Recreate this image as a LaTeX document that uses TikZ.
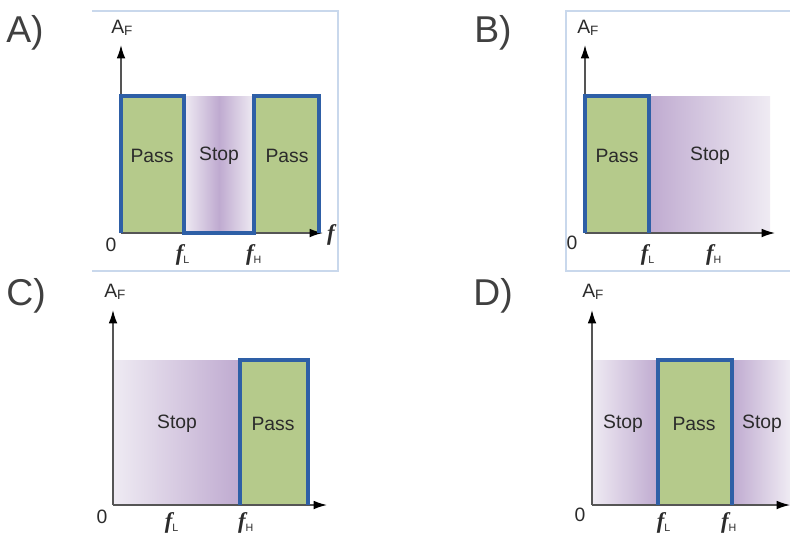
\documentclass[tikz,border=0pt]{standalone}
\usepackage{fontspec}
\setmainfont{Liberation Sans}
\newfontfamily\freqfont{Liberation Serif}
\usetikzlibrary{arrows.meta}
\definecolor{PassGreen}{HTML}{B5CA8B}
\definecolor{EdgeBlue}{HTML}{2E5FA6}
\definecolor{StopDark}{HTML}{BFAAD0}
\definecolor{StopLight}{HTML}{EFEBF3}
\definecolor{FrameBlue}{HTML}{C9D8EC}
\definecolor{AxisGray}{HTML}{555555}
\definecolor{Ink}{HTML}{2B2B2B}
\definecolor{PanelGray}{HTML}{404040}
\newcommand{\freq}[1]{{\freqfont\bfseries\itshape f}\textsubscript{\fontsize{8}{8}\selectfont #1}}

\begin{document}
\begin{tikzpicture}[x=0.75pt, y=-0.75pt,
    pass/.style={fill=PassGreen},
    edge/.style={draw=EdgeBlue, line width=3pt, line join=miter},
    axis/.style={-{Latex[length=10pt, width=6.5pt, color=black]}, draw=AxisGray, line width=1.1pt},
    frame/.style={draw=FrameBlue, line width=0.8pt},
    txt/.style={font=\fontsize{14.5}{16}\selectfont, text=Ink, inner sep=0pt},
    af/.style={txt, anchor=base west},
    panel/.style={font=\fontsize{28}{30}\selectfont, text=PanelGray, inner sep=0pt},
    fr/.style={font=\fontsize{17}{18}\selectfont, text=Ink, inner sep=0pt, anchor=base}]
  \useasboundingbox (0,0) rectangle (790,536);

  % frames
  \draw[frame] (92,11) -- (338,11) -- (338,271) -- (92,271);
  \draw[frame] (790,11) -- (566,11) -- (566,271) -- (790,271);

  % A) band stop
  \node[panel] (labA) at (25,33) {A)};
  \fill[pass] (121,96) rectangle (184,233);
  \shade[left color=StopLight, right color=StopLight, middle color=StopDark] (184,96) rectangle (254,233);
  \fill[pass] (254,96) rectangle (319,233);
  \coordinate (oA) at (121,233);
  \coordinate (yA) at (121,45);
  \coordinate (xA) at (323,233);
  \draw[axis] (oA) -- (yA);
  \draw[axis] (oA) -- (xA);
  \draw[edge] (oA) |- (184,96) -- (184,233) -- (254,233) -- (254,96) -| (319,233);
  \node[af] (afA) at (111,33) {A\textsubscript{F}};
  \node[txt] (pA1) at (152,156) {Pass};
  \node[txt] (sA) at (219,156) {Stop};
  \node[txt] (pA2) at (287,156) {Pass};
  \node[txt] (zA) at (111,245) {0};
  \node[fr] (flA) at (183,260) {\freq{L}};
  \node[fr] (fhA) at (254,260) {\freq{H}};
  \node[fr] (fA) at (331,240) {{\freqfont\bfseries\itshape f}};

  % B) low pass
  \node[panel] (labB) at (493,33) {B)};
  \fill[pass] (585,96) rectangle (649,233);
  \shade[left color=StopDark, right color=StopLight] (649,96) rectangle (770,233);
  \coordinate (oB) at (585,233);
  \coordinate (yB) at (585,45);
  \coordinate (xB) at (775,233);
  \draw[axis] (oB) -- (yB);
  \draw[axis] (oB) -- (xB);
  \draw[edge] (oB) |- (649,96) -- (649,233);
  \node[af] (afB) at (577,33) {A\textsubscript{F}};
  \node[txt] (pB) at (617,156) {Pass};
  \node[txt] (sB) at (710,156) {Stop};
  \node[txt] (zB) at (572,243) {0};
  \node[fr] (flB) at (648,260) {\freq{L}};
  \node[fr] (fhB) at (714,260) {\freq{H}};

  % C) high pass
  \node[panel] (labC) at (26,296) {C)};
  \shade[left color=StopLight, right color=StopDark] (113,360) rectangle (240,505);
  \fill[pass] (240,360) rectangle (308,505);
  \coordinate (oC) at (113,505);
  \coordinate (yC) at (113,310);
  \coordinate (xC) at (327,505);
  \draw[axis] (oC) -- (yC);
  \draw[axis] (oC) -- (xC);
  \draw[edge] (240,505) |- (308,360) -- (308,505);
  \node[af] (afC) at (104,297) {A\textsubscript{F}};
  \node[txt] (sC) at (177,424) {Stop};
  \node[txt] (pC) at (273,424) {Pass};
  \node[txt] (zC) at (102,517) {0};
  \node[fr] (flC) at (172,528) {\freq{L}};
  \node[fr] (fhC) at (246,528) {\freq{H}};

  % D) band pass
  \node[panel] (labD) at (493,296) {D)};
  \shade[left color=StopLight, right color=StopDark] (592,360) rectangle (658,505);
  \fill[pass] (658,360) rectangle (732,505);
  \shade[left color=StopDark, right color=StopLight] (732,360) rectangle (790,505);
  \coordinate (oD) at (592,505);
  \coordinate (yD) at (592,310);
  \coordinate (xD) at (790,505);
  \draw[axis] (oD) -- (yD);
  \draw[axis] (oD) -- (xD);
  \draw[edge] (658,505) |- (732,360) -- (732,505);
  \node[af] (afD) at (582,297) {A\textsubscript{F}};
  \node[txt] (sD1) at (623,424) {Stop};
  \node[txt] (pD) at (694,424) {Pass};
  \node[txt] (sD2) at (762,424) {Stop};
  \node[txt] (zD) at (580,515) {0};
  \node[fr] (flD) at (664,528) {\freq{L}};
  \node[fr] (fhD) at (729,528) {\freq{H}};
\end{tikzpicture}
\end{document}
